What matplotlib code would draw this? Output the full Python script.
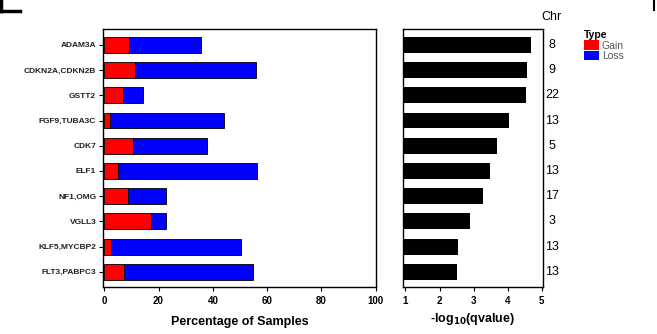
import matplotlib
matplotlib.use('Agg')
import matplotlib.pyplot as plt
from matplotlib.patches import Patch
import numpy as np

genes = ['ADAM3A', 'CDKN2A,CDKN2B', 'GSTT2', 'FGF9,TUBA3C', 'CDK7',
         'ELF1', 'NF1,OMG', 'VGLL3', 'KLF5,MYCBP2', 'FLT3,PABPC3']
gain = [9.2, 11.3, 6.9, 2.2, 10.7, 5.1, 8.8, 17.3, 2.6, 7.4]
total = [35.7, 55.9, 14.2, 44.0, 38.0, 56.3, 22.7, 22.7, 50.2, 54.9]
loss = [t - g for t, g in zip(total, gain)]
qval = [4.68, 4.56, 4.54, 4.05, 3.70, 3.48, 3.29, 2.89, 2.53, 2.50]
chrom = ['8', '9', '22', '13', '5', '13', '17', '3', '13', '13']

plt.rcParams['font.family'] = ['Liberation Sans', 'DejaVu Sans']

fig = plt.figure(figsize=(6.57, 3.34), dpi=100)
ax1 = fig.add_axes([0.157, 0.141, 0.415, 0.772])
ax2 = fig.add_axes([0.613, 0.141, 0.213, 0.772])

y = np.arange(len(genes))
h = 0.63
ax1.barh(y, gain, height=h, color='#ff0000', edgecolor='black', linewidth=0.6)
ax1.barh(y, loss, left=gain, height=h, color='#0000ff', edgecolor='black', linewidth=0.6)
ax1.set_yticks(y)
ax1.set_yticklabels(genes, fontsize=6, fontweight='bold', color='#222222')
ax1.set_ylim(len(genes) - 0.4, -0.63)
ax1.set_xlim(-0.4, 100)
ax1.set_xticks([0, 20, 40, 60, 80, 100])
ax1.set_xlabel('Percentage of Samples', fontsize=9, fontweight='bold', labelpad=7)

ax2.barh(y, qval, height=h, color='black')
ax2.set_xlim(0.92, 5.03)
ax2.set_ylim(len(genes) - 0.4, -0.63)
ax2.set_yticks([])
ax2.set_xticks([1, 2, 3, 4, 5])
ax2.set_xlabel(r'-log$_{\mathbf{10}}$(qvalue)', fontsize=9, fontweight='bold', labelpad=4)

for ax in (ax1, ax2):
    for s in ax.spines.values():
        s.set_linewidth(1.0)
    ax.tick_params(axis='x', labelsize=7, length=3, width=0.8)
    ax.tick_params(axis='y', length=3, width=0.8, pad=2)
    for lab in ax.get_xticklabels():
        lab.set_fontweight('bold')

# chromosome labels to the right of the q-value bars
for yi, c in zip(y, chrom):
    ax2.text(1.066, yi, c, transform=ax2.get_yaxis_transform(), fontsize=9,
             ha='center', va='center')
ax2.text(1.066, 1.025, 'Chr', transform=ax2.transAxes, fontsize=9,
         ha='center', va='bottom')

handles = [Patch(facecolor='#ff0000', label='Gain'),
           Patch(facecolor='#0000ff', label='Loss')]
leg = fig.legend(handles=handles, title='Type', loc='upper left',
                 bbox_to_anchor=(0.881, 0.925), frameon=False, fontsize=7.5,
                 handlelength=1.4, handleheight=1.05, handletextpad=0.3,
                 labelspacing=0.0, borderpad=0.0)
leg.get_title().set_fontsize(7.5)
leg.get_title().set_fontweight('bold')
leg._legend_box.align = 'left'
for t in leg.get_texts():
    t.set_color('#555555')

# edges of neighbouring panel letters
fig.add_artist(plt.Line2D([0.0, 0.03], [0.968, 0.968], color='black', lw=2.5))
fig.add_artist(plt.Line2D([0.002, 0.002], [0.968, 1.0], color='black', lw=2.5))
fig.add_artist(plt.Line2D([0.995, 0.995], [0.97, 1.0], color='black', lw=1.5))

fig.savefig('out.png', dpi=100)
